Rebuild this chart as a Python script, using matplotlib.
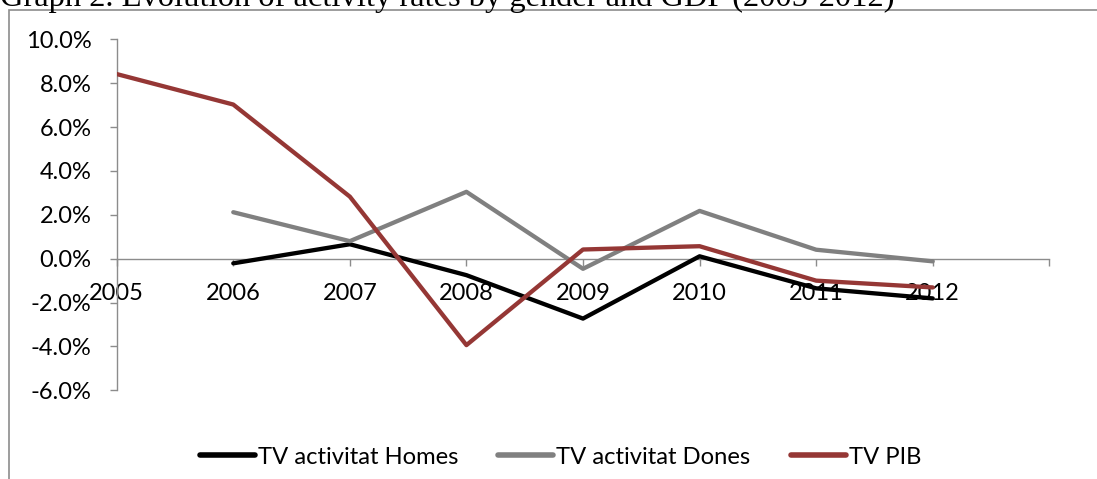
import matplotlib
matplotlib.use("Agg")
import matplotlib.pyplot as plt
from matplotlib.patches import Rectangle
from matplotlib.font_manager import FontProperties

years = ["2005", "2006", "2007", "2008", "2009", "2010", "2011", "2012"]
homes = [None, -0.21, 0.66, -0.75, -2.73, 0.11, -1.35, -1.81]
dones = [None, 2.12, 0.80, 3.05, -0.46, 2.18, 0.41, -0.12]
pib = [8.42, 7.03, 2.83, -3.94, 0.42, 0.57, -1.00, -1.31]
series_names = ["TV activitat Homes", "TV activitat Dones", "TV PIB"]
series_colors = ["#000000", "#808080", "#953735"]
yticks = [-6, -4, -2, 0, 2, 4, 6, 8, 10]
title = "Graph 2. Evolution of activity rates by gender and GDP (2005-2012)"

W, H = 1097, 479
PX = 72.0 / 100  # points per pixel at dpi 100
fig = plt.figure(figsize=(W / 100, H / 100), dpi=100)
fig.patch.set_facecolor("white")

# outer chart frame
fig.patches.append(Rectangle((8.5 / W, -0.1), 1.2, 1 - 9.5 / H + 0.1, transform=fig.transFigure,
                             fill=False, edgecolor="#8c8c8c", linewidth=1.2, zorder=0))
fig.text(0.0, 1 - 6 / H, title, family="Liberation Serif", fontsize=23.4,
         ha="left", va="baseline", color="black")

x0, x1 = 116.7, 1049.3
ytop, ybot = 39.4, 390.3
ax = fig.add_axes([x0 / W, 1 - ybot / H, (x1 - x0) / W, (ybot - ytop) / H])
ax.set_facecolor("none")

xs = list(range(len(years)))
for vals, name, col in zip([homes, dones, pib], series_names, series_colors):
    px = [x for x, v in zip(xs, vals) if v is not None]
    py = [v for v in vals if v is not None]
    ax.plot(px, py, color=col, linewidth=3.1, solid_capstyle="round",
            solid_joinstyle="round", label=name, zorder=3)

ax.set_xlim(0, len(years))
ax.set_ylim(-6, 10)
ax.set_xticks(list(range(len(years) + 1)))
ax.set_xticklabels(years + [""])
ax.set_yticks(yticks)
ax.set_yticklabels([f"{v:.1f}%" for v in yticks])

for s in ["top", "right"]:
    ax.spines[s].set_visible(False)
ax.spines["bottom"].set_position(("data", 0))
for s in ["left", "bottom"]:
    ax.spines[s].set_color("#8c8c8c")
    ax.spines[s].set_linewidth(1.0)

ax.tick_params(axis="both", colors="#8c8c8c", labelcolor="black", length=5, width=1.0,
               direction="out")
ax.tick_params(axis="y", pad=13)
ax.tick_params(axis="x", pad=12.3)
for lab in ax.get_xticklabels() + ax.get_yticklabels():
    lab.set_family("Lato")
    lab.set_fontsize(17)

# legend font sized so that the first entry is ~201 px wide, as in the reference
legend_prop = FontProperties(family="Lato", size=16)
renderer = fig.canvas.get_renderer()
probe = fig.text(0, 0, series_names[0], fontproperties=legend_prop)
wpx = probe.get_window_extent(renderer).width
probe.remove()
legend_prop.set_size(16 * 201.0 / wpx)

fs = legend_prop.get_size_in_points()
leg = fig.legend(loc="center", bbox_to_anchor=(560.6 / W, 1 - 457 / H), ncol=3,
                 frameon=False, prop=legend_prop,
                 handlelength=55 * PX / fs, handletextpad=3 * PX / fs,
                 columnspacing=40 * PX / fs,
                 borderaxespad=0, borderpad=0)
for t in leg.get_texts():
    t.set_color("black")
for l in leg.get_lines():
    l.set_linewidth(4.0)

fig.savefig("out.png", dpi=100, facecolor="white")
